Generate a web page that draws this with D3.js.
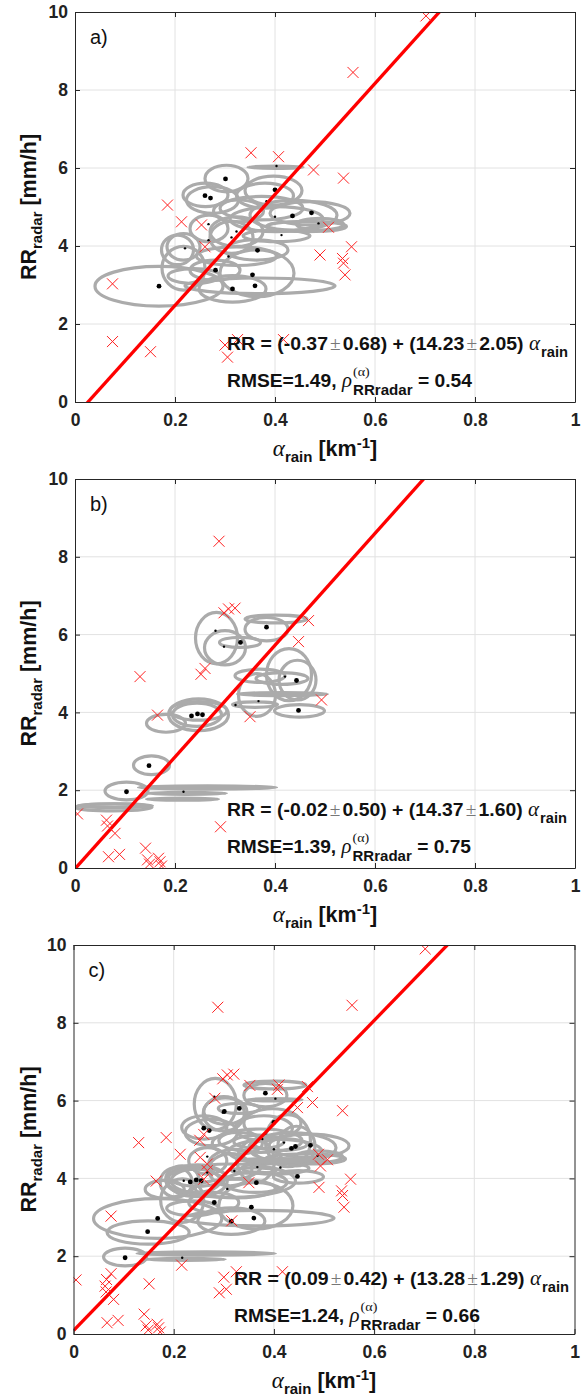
<!DOCTYPE html>
<html><head><meta charset="utf-8">
<script src="https://cdn.jsdelivr.net/npm/d3@7"></script>
<style>body{margin:0;background:#fff}svg{display:block}</style>
</head><body>
<svg id="chart" width="586" height="1399"></svg>
<script>
// ---------------- data ----------------
const panelLabels = ["a)", "b)", "c)"];
const xTicks = [0, 0.2, 0.4, 0.6, 0.8, 1];
const yTicks = [0, 2, 4, 6, 8, 10];
const xTickLabels = ["0", "0.2", "0.4", "0.6", "0.8", "1"];
const yTickLabels = ["0", "2", "4", "6", "8", "10"];

const intercept = [-0.37, -0.02, 0.09];
const interceptErr = [0.68, 0.50, 0.42];
const slope = [14.23, 14.37, 13.28];
const slopeErr = [2.05, 1.60, 1.29];
const rmse = [1.49, 1.39, 1.24];
const rho = [0.54, 0.75, 0.66];

// ellipses: [alpha centre, RR centre, alpha half-width, RR half-height]
const ellipsesA = [
  [0.168, 2.97, 0.128, 0.51], [0.37, 2.98, 0.15, 0.20], [0.315, 2.90, 0.067, 0.34],
  [0.364, 3.30, 0.074, 0.60], [0.280, 3.38, 0.050, 0.26], [0.363, 3.90, 0.063, 0.26],
  [0.217, 3.43, 0.043, 0.56], [0.217, 3.98, 0.033, 0.34], [0.238, 3.23, 0.052, 0.19],
  [0.268, 4.45, 0.038, 0.34], [0.323, 4.37, 0.053, 0.38], [0.313, 4.22, 0.043, 0.41],
  [0.323, 3.74, 0.080, 0.24], [0.303, 5.73, 0.043, 0.34], [0.261, 5.31, 0.045, 0.30],
  [0.275, 5.18, 0.052, 0.34], [0.327, 4.90, 0.050, 0.28], [0.397, 5.42, 0.057, 0.37],
  [0.401, 6.02, 0.055, 0.03], [0.437, 4.79, 0.087, 0.38], [0.470, 4.84, 0.080, 0.30],
  [0.380, 5.29, 0.057, 0.32], [0.373, 4.97, 0.083, 0.30], [0.403, 4.69, 0.093, 0.32],
  [0.403, 4.26, 0.067, 0.15], [0.490, 4.56, 0.047, 0.15], [0.463, 4.50, 0.080, 0.13],
  [0.205, 3.90, 0.032, 0.38]
];
const ellipsesB = [
  [0.383, 6.14, 0.043, 0.30], [0.402, 6.40, 0.062, 0.10], [0.283, 5.91, 0.042, 0.66],
  [0.300, 5.66, 0.041, 0.44], [0.330, 5.80, 0.041, 0.13], [0.428, 4.97, 0.045, 0.67],
  [0.445, 4.83, 0.037, 0.51], [0.370, 4.94, 0.050, 0.17], [0.364, 4.45, 0.037, 0.55],
  [0.414, 4.87, 0.052, 0.15], [0.415, 4.47, 0.090, 0.04], [0.449, 4.04, 0.050, 0.16],
  [0.360, 4.20, 0.045, 0.07], [0.182, 3.72, 0.039, 0.23], [0.247, 3.94, 0.060, 0.41],
  [0.244, 3.94, 0.049, 0.30], [0.247, 4.04, 0.057, 0.24], [0.153, 2.64, 0.036, 0.24],
  [0.103, 1.98, 0.043, 0.23], [0.265, 2.07, 0.138, 0.04], [0.223, 1.92, 0.080, 0.025],
  [0.215, 1.77, 0.072, 0.025], [0.077, 1.56, 0.077, 0.09], [0.080, 1.60, 0.075, 0.05]
];
const ellipsesBNotInC = [17, 21, 22, 23];
const ellipsesCExtra = [
  [0.149, 2.61, 0.082, 0.30], [0.314, 3.94, 0.129, 0.43]
];

const dotsA = [[0.301,5.72],[0.26,5.29],[0.271,5.23],[0.168,2.97],[0.281,3.38],[0.315,2.90],
  [0.36,2.98],[0.355,3.26],[0.365,3.89],[0.435,4.77],[0.473,4.85],[0.40,5.44]];
const dotsSmallA = [[0.313,4.22],[0.307,3.73],[0.267,4.15],[0.267,4.56],[0.22,3.94],[0.323,4.37],
  [0.40,4.75],[0.413,4.28],[0.377,5.01],[0.383,5.15],[0.487,4.58],[0.403,6.05]];
const dotsB = [[0.383,6.19],[0.331,5.8],[0.233,3.91],[0.245,3.96],[0.255,3.94],[0.148,2.63],
  [0.103,1.96],[0.447,4.05],[0.443,4.82]];
const dotsSmallB = [[0.281,6.1],[0.298,5.69],[0.217,1.96],[0.321,4.19],[0.367,4.29],[0.42,4.92]];

const crossesA = [[0.702,9.9],[0.556,8.45],[0.352,6.39],[0.407,6.29],[0.477,5.95],[0.537,5.74],
  [0.185,5.05],[0.213,4.62],[0.253,4.54],[0.26,3.98],[0.507,4.48],[0.553,3.98],[0.49,3.77],
  [0.535,3.68],[0.537,3.56],[0.54,3.26],[0.075,3.03],[0.075,1.55],[0.151,1.29],[0.3,1.46],
  [0.305,1.15],[0.325,1.6],[0.417,1.6]];
const crossesB = [[0.288,8.4],[0.298,6.56],[0.307,6.66],[0.32,6.68],[0.467,6.36],[0.447,5.82],
  [0.13,4.92],[0.252,4.98],[0.26,5.13],[0.165,3.93],[0.35,3.89],[0.493,4.32],[0.005,1.39],
  [0.063,1.23],[0.065,1.08],[0.08,0.89],[0.067,0.29],[0.089,0.35],[0.141,0.51],[0.145,0.21],
  [0.149,0.1],[0.167,0.25],[0.17,0.16],[0.173,0.05],[0.291,1.06]];
const crossesCExtra = [[0.282,6.06],[0.267,4.2],[0.267,4.37],[0.316,2.91],[0.216,1.77],
  [0.066,1.4],[0.489,4.62],[0.41,6.4]];

const ellipsesC = ellipsesA.concat(ellipsesB.filter((e, i) => !ellipsesBNotInC.includes(i)), ellipsesCExtra);
const panelData = [
  {ell: ellipsesA, dots: dotsA, small: dotsSmallA, crosses: crossesA},
  {ell: ellipsesB, dots: dotsB, small: dotsSmallB, crosses: crossesB},
  {ell: ellipsesC, dots: dotsA.concat(dotsB), small: dotsSmallA.concat(dotsSmallB),
   crosses: crossesA.concat(crossesB, crossesCExtra)}
];

// ---------------- layout ----------------
const layout = [
  {top: 12, left: 75, w: 500, h: 390, eqX: 227, eqW: 341, rmW: 245, eqY: 350, rmY: 386.5},
  {top: 479, left: 75, w: 500, h: 389, eqX: 227, eqW: 340, rmW: 244, eqY: 816, rmY: 853},
  {top: 945, left: 73.5, w: 501, h: 389, eqX: 234, eqW: 335, rmW: 246, eqY: 1285, rmY: 1322}
];
const SANS = "'Liberation Sans', Arial, sans-serif";
const SERIF = "'Liberation Serif', 'Times New Roman', serif";
const svg = d3.select("#chart");

function rich(g, x0, y0, segs, targetW) {
  const t = g.append("g");
  let x = 0;
  const mk = (s, txt, dy, xx) => t.append("text").attr("x", xx).attr("y", dy)
    .style("white-space", "pre")
    .attr("font-family", s.family || SANS).attr("font-size", s.size)
    .attr("font-weight", s.weight || "bold").attr("font-style", s.style || "normal")
    .attr("fill", s.fill || "#111").text(txt);
  segs.forEach(s => {
    x += s.gapL || 0;
    if (s.sup !== undefined) {
      const a = mk(s.supStyle, s.sup, s.supDy, x);
      const b = mk(s.subStyle, s.sub, s.subDy, x);
      x += Math.max(a.node().getComputedTextLength(), b.node().getComputedTextLength());
    } else {
      const e = mk(s, s.t, s.dy || 0, x);
      x += e.node().getComputedTextLength();
    }
    x += s.gapR || 0;
  });
  const k = targetW ? targetW / x : 1;
  t.attr("transform", `translate(${x0},${y0}) scale(${k},1)`);
}

layout.forEach((L, i) => {
  const D = panelData[i];
  const x = d3.scaleLinear().domain([0, 1]).range([L.left, L.left + L.w]);
  const y = d3.scaleLinear().domain([0, 10]).range([L.top + L.h, L.top]);
  const g = svg.append("g");
  const clipId = "clip" + i;
  g.append("clipPath").attr("id", clipId).append("rect")
    .attr("x", L.left).attr("y", L.top).attr("width", L.w).attr("height", L.h);

  // grid
  g.append("g").selectAll("line").data(xTicks.slice(1, -1)).join("line")
    .attr("x1", d => x(d)).attr("x2", d => x(d)).attr("y1", L.top).attr("y2", L.top + L.h)
    .attr("stroke", "#e2e2e2").attr("stroke-width", 1);
  g.append("g").selectAll("line").data(yTicks.slice(1, -1)).join("line")
    .attr("y1", d => y(d)).attr("y2", d => y(d)).attr("x1", L.left).attr("x2", L.left + L.w)
    .attr("stroke", "#e2e2e2").attr("stroke-width", 1);

  const plot = g.append("g").attr("clip-path", `url(#${clipId})`);
  // ellipses
  plot.append("g").selectAll("ellipse").data(D.ell).join("ellipse")
    .attr("cx", d => x(d[0])).attr("cy", d => y(d[1]))
    .attr("rx", d => x(d[2]) - x(0)).attr("ry", d => y(0) - y(d[3]))
    .attr("fill", "none").attr("stroke", "#ababab").attr("stroke-width", 3.2);
  // dots
  plot.append("g").selectAll("circle").data(D.dots).join("circle")
    .attr("cx", d => x(d[0])).attr("cy", d => y(d[1])).attr("r", 2.4).attr("fill", "#000");
  plot.append("g").selectAll("circle").data(D.small).join("circle")
    .attr("cx", d => x(d[0])).attr("cy", d => y(d[1])).attr("r", 1.2).attr("fill", "#000");
  // regression line
  plot.append("line")
    .attr("x1", x(0)).attr("y1", y(intercept[i]))
    .attr("x2", x(1)).attr("y2", y(intercept[i] + slope[i]))
    .attr("stroke", "#ff0000").attr("stroke-width", 3.3);
  // crosses
  const c = 5.5;
  plot.append("g").selectAll("path").data(D.crosses).join("path")
    .attr("d", d => `M${x(d[0]) - c},${y(d[1]) - c}L${x(d[0]) + c},${y(d[1]) + c}M${x(d[0]) - c},${y(d[1]) + c}L${x(d[0]) + c},${y(d[1]) - c}`)
    .attr("stroke", "#ff2020").attr("stroke-width", 1).attr("fill", "none");

  // axes
  const axCol = "#262626";
  const styleAx = sel => {
    sel.selectAll("path,line").attr("stroke", axCol);
    sel.selectAll("text").attr("font-family", SANS).attr("font-size", 17.5)
      .attr("font-weight", "bold").attr("fill", "#222");
  };
  g.append("g").attr("transform", `translate(0,${L.top + L.h})`)
    .call(d3.axisBottom(x).tickValues(xTicks).tickFormat((d, j) => xTickLabels[j])
      .tickSize(-5).tickSizeOuter(0).tickPadding(12)).call(styleAx);
  g.append("g").attr("transform", `translate(${L.left},0)`)
    .call(d3.axisLeft(y).tickValues(yTicks).tickFormat((d, j) => yTickLabels[j])
      .tickSize(-5).tickSizeOuter(0).tickPadding(7)).call(styleAx);
  g.append("g").attr("transform", `translate(0,${L.top})`)
    .call(d3.axisTop(x).tickValues(xTicks).tickFormat("").tickSize(-5).tickSizeOuter(0)).call(styleAx);
  g.append("g").attr("transform", `translate(${L.left + L.w},0)`)
    .call(d3.axisRight(y).tickValues(yTicks).tickFormat("").tickSize(-5).tickSizeOuter(0)).call(styleAx);

  // panel label
  g.append("text").attr("x", L.left + 15).attr("y", L.top + 32)
    .attr("font-family", SANS).attr("font-size", 20).attr("fill", "#111").text(panelLabels[i]);

  // y label
  const yl = g.append("text")
    .attr("transform", `translate(36,${L.top + L.h / 2}) rotate(-90)`)
    .attr("text-anchor", "middle").attr("font-family", SANS).attr("font-weight", "bold")
    .attr("font-size", 21.5).attr("fill", "#111");
  yl.append("tspan").text("RR");
  yl.append("tspan").attr("font-size", 15).attr("dy", 6).text("radar");
  yl.append("tspan").attr("dy", -6).text(" [mm/h]");

  // x label
  const xl = g.append("text")
    .attr("x", L.left + L.w / 2).attr("y", L.top + L.h + 54)
    .attr("text-anchor", "middle").attr("font-family", SANS).attr("font-weight", "bold")
    .attr("font-size", 21.5).attr("fill", "#111");
  xl.append("tspan").attr("font-family", SERIF).attr("font-style", "italic")
    .attr("font-weight", "normal").attr("font-size", 23).text("α");
  xl.append("tspan").attr("font-size", 15).attr("dy", 6).text("rain");
  xl.append("tspan").attr("dy", -6).text(" [km");
  xl.append("tspan").attr("font-size", 15).attr("dy", -8).text("-1");
  xl.append("tspan").attr("dy", 8).text("]");

  // equation
  const B = {size: 18.5};
  const PM = {t: "±", size: 18.5, family: SERIF, weight: "normal", fill: "#777", gapL: 2, gapR: 2};
  rich(g, L.eqX, L.eqY, [
    Object.assign({t: `RR = (${intercept[i].toFixed(2)}`}, B),
    PM,
    Object.assign({t: `${interceptErr[i].toFixed(2)}) + (${slope[i].toFixed(2)}`}, B),
    PM,
    Object.assign({t: `${slopeErr[i].toFixed(2)}) `}, B),
    {t: "α", size: 20, family: SERIF, style: "italic", weight: "normal", gapR: 1},
    {t: "rain", size: 14, dy: 7}
  ], L.eqW);
  rich(g, L.eqX, L.rmY, [
    Object.assign({t: `RMSE=${rmse[i].toFixed(2)}, `}, B),
    {t: "ρ", size: 20, family: SERIF, style: "italic", weight: "normal", gapR: 1},
    {sup: "(α)", sub: "RRradar", supDy: -11, subDy: 8,
     supStyle: {size: 13.5, family: SERIF, weight: "normal"},
     subStyle: {size: 14.5}},
    Object.assign({t: ` = ${rho[i].toFixed(2)}`}, B)
  ], L.rmW);
});
</script>
</body></html>
